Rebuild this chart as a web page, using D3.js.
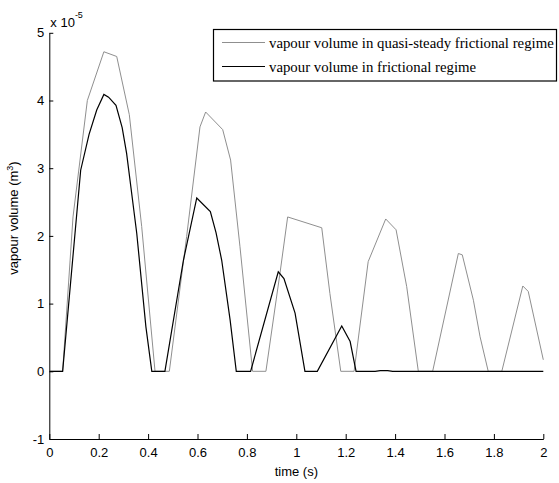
<!DOCTYPE html>
<html>
<head>
<meta charset="utf-8">
<script src="https://cdn.jsdelivr.net/npm/d3@7"></script>
<style>
  body { margin: 0; background: #fff; }
  svg { display: block; }
</style>
</head>
<body>
<script>
// values in units of 1e-5 m^3
var tQuasi = [0, 0.054, 0.096, 0.154, 0.221, 0.273, 0.324, 0.374, 0.428, 0.486, 0.556, 0.61, 0.633, 0.702, 0.734, 0.772, 0.823, 0.877, 0.934, 0.965, 1.103, 1.136, 1.18, 1.234, 1.291, 1.362, 1.404, 1.447, 1.494, 1.552, 1.656, 1.672, 1.717, 1.744, 1.777, 1.832, 1.917, 1.939, 2.0];
var vQuasi = [0, 0, 2.28, 4.0, 4.72, 4.65, 3.79, 2.14, 0, 0, 1.99, 3.61, 3.83, 3.57, 3.12, 1.84, 0, 0, 1.45, 2.28, 2.12, 1.15, 0, 0, 1.62, 2.25, 2.09, 1.25, 0, 0, 1.74, 1.72, 1.05, 0.51, 0, 0, 1.26, 1.18, 0.17];

var tFric = [0, 0.054, 0.127, 0.161, 0.192, 0.221, 0.240, 0.270, 0.295, 0.313, 0.354, 0.391, 0.415, 0.468, 0.543, 0.597, 0.652, 0.675, 0.698, 0.732, 0.757, 0.815, 0.927, 0.950, 0.995, 1.035, 1.085, 1.184, 1.218, 1.242, 1.319, 1.34, 1.37, 1.39, 2.0];
var vFric = [0, 0, 2.97, 3.50, 3.86, 4.09, 4.05, 3.93, 3.6, 3.22, 2.04, 0.66, 0, 0, 1.64, 2.56, 2.36, 2.05, 1.64, 0.76, 0, 0, 1.47, 1.37, 0.86, 0, 0, 0.67, 0.44, 0, 0, 0.01, 0.01, 0, 0];

var xTicks = [0, 0.2, 0.4, 0.6, 0.8, 1, 1.2, 1.4, 1.6, 1.8, 2];
var yTicks = [-1, 0, 1, 2, 3, 4, 5];
var legendLabels = ['vapour volume in quasi-steady frictional regime', 'vapour volume in frictional regime'];

var width = 559, height = 483;
var margin = { top: 32.8, left: 49.3, right: 15.7, bottom: 44 };

var svg = d3.select('body').append('svg')
    .attr('width', width)
    .attr('height', height);

var x = d3.scaleLinear().domain([0, 2]).range([margin.left, width - margin.right]);
var y = d3.scaleLinear().domain([-1, 5]).range([height - margin.bottom, margin.top]);

var plain = function(d) { return String(d); };

var xAxis = svg.append('g')
    .attr('transform', `translate(0,${height - margin.bottom})`)
    .call(d3.axisBottom(x).tickValues(xTicks).tickFormat(plain).tickSizeInner(-5).tickSizeOuter(0).tickPadding(9));

var yAxis = svg.append('g')
    .attr('transform', `translate(${margin.left},0)`)
    .call(d3.axisLeft(y).tickValues(yTicks).tickFormat(plain).tickSizeInner(-4).tickSizeOuter(0).tickPadding(5));

svg.selectAll('.tick text')
    .style('font-family', 'Liberation Sans, Arial, sans-serif')
    .style('font-size', '13px')
    .attr('fill', '#000');
svg.selectAll('.domain, .tick line').attr('stroke', '#000');

// exponent label
var expo = svg.append('text')
    .attr('x', margin.left + 1)
    .attr('y', 27)
    .style('font-family', 'Liberation Sans, Arial, sans-serif')
    .style('font-size', '13px')
    .text('x 10');
expo.append('tspan')
    .attr('dy', -9)
    .style('font-size', '9px')
    .text('-5');

var line = d3.line()
    .x(function(d) { return x(d[0]); })
    .y(function(d) { return y(d[1]); });

svg.append('path')
    .datum(d3.zip(tQuasi, vQuasi))
    .attr('d', line)
    .attr('fill', 'none')
    .attr('stroke', '#8f8f8f')
    .attr('stroke-width', 1);

svg.append('path')
    .datum(d3.zip(tFric, vFric))
    .attr('d', line)
    .attr('fill', 'none')
    .attr('stroke', '#000')
    .attr('stroke-width', 1.2);

// axis labels
svg.append('text')
    .attr('x', (margin.left + width - margin.right) / 2)
    .attr('y', 476)
    .attr('text-anchor', 'middle')
    .style('font-family', 'Liberation Sans, Arial, sans-serif')
    .style('font-size', '13px')
    .text('time (s)');

var yl = svg.append('text')
    .attr('transform', 'translate(18,218) rotate(-90)')
    .attr('text-anchor', 'middle')
    .style('font-family', 'Liberation Sans, Arial, sans-serif')
    .style('font-size', '13px')
    .text('vapour volume (m');
yl.append('tspan').attr('dy', -5).style('font-size', '9px').text('3');
yl.append('tspan').attr('dy', 5).text(')');

// legend
var lg = svg.append('g');
lg.append('rect')
    .attr('x', 213.5).attr('y', 29.5)
    .attr('width', 343).attr('height', 51.5)
    .attr('fill', '#fff')
    .attr('stroke', '#000')
    .attr('stroke-width', 1.2);

var legColors = ['#8f8f8f', '#000'];
legendLabels.forEach(function(lab, i) {
    var yy = 42.5 + i * 24;
    lg.append('line')
        .attr('x1', 222).attr('x2', 265)
        .attr('y1', yy).attr('y2', yy)
        .attr('stroke', legColors[i])
        .attr('stroke-width', i === 1 ? 1.2 : 1);
    lg.append('text')
        .attr('x', 269)
        .attr('y', yy + 5)
        .style('font-family', 'Liberation Serif, Times New Roman, serif')
        .style('font-size', '14.8px')
        .text(lab);
});
</script>
</body>
</html>
